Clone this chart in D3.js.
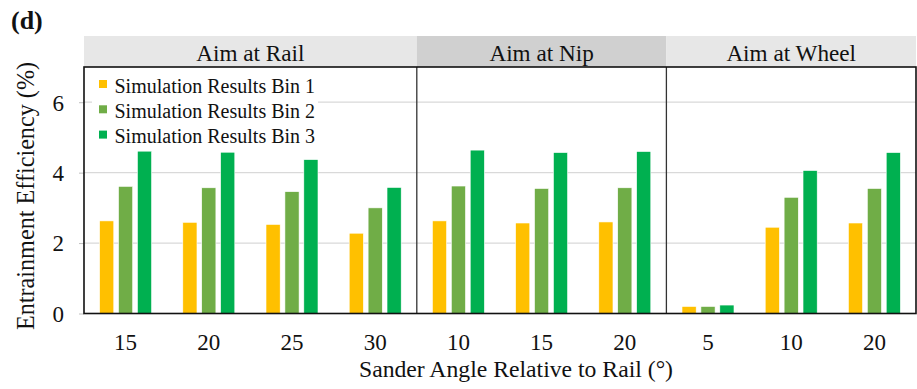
<!DOCTYPE html>
<html>
<head>
<meta charset="utf-8">
<script src="https://cdn.jsdelivr.net/npm/d3@7"></script>
<style>
  body { margin: 0; background: #fff; }
</style>
</head>
<body>
<div class="chart"></div>
<script>
// data
const panels = ["Aim at Rail", "Aim at Nip", "Aim at Wheel"]
const panelAngles = [[15, 20, 25, 30], [10, 15, 20], [5, 10, 20]]
const bins = ["Simulation Results Bin 1", "Simulation Results Bin 2", "Simulation Results Bin 3"]
const bin1 = [2.63, 2.59, 2.53, 2.28, 2.63, 2.57, 2.60, 0.20, 2.45, 2.57]
const bin2 = [3.61, 3.57, 3.46, 3.00, 3.62, 3.55, 3.57, 0.20, 3.30, 3.55]
const bin3 = [4.61, 4.58, 4.37, 3.58, 4.64, 4.57, 4.60, 0.24, 4.06, 4.57]
const yTicks = [0, 2, 4, 6]
const colors = ["#FFC000", "#70AD47", "#00B050"]
const headerFill = ["#e7e7e7", "#d0d0d0", "#e7e7e7"]

const serif = "'Liberation Serif', serif"

let svgWidth = 917
let svgHeight = 389
let plot = { left: 84, right: 916, top: 67, bottom: 313.5 }

let svg = d3.select('.chart')
    .append('svg')
    .attr('width', svgWidth)
    .attr('height', svgHeight)
    .style('font-family', serif)

// one slot per (panel, angle)
let cats = []
panels.forEach((p, i) => {
    panelAngles[i].forEach(a => cats.push({ panel: i, angle: a, key: p + "-" + a }))
})
cats.forEach((c, i) => {
    c.values = [bin1[i], bin2[i], bin3[i]]
})

let x = d3.scaleBand()
    .domain(cats.map(d => d.key))
    .range([plot.left, plot.right])

let y = d3.scaleLinear()
    .domain([0, 7])
    .range([plot.bottom, plot.top])

// panel edges from the band scale
let panelEdges = panels.map((p, i) => {
    let keys = cats.filter(c => c.panel == i).map(c => c.key)
    return { x0: x(keys[0]), x1: x(keys[keys.length - 1]) + x.bandwidth(), name: p, i: i }
})

// header strips
svg.selectAll('.header')
    .data(panelEdges)
    .enter()
    .append('rect')
    .attr('x', d => d.x0)
    .attr('y', 36)
    .attr('width', d => d.x1 - d.x0)
    .attr('height', plot.top - 36)
    .attr('fill', d => headerFill[d.i])

svg.selectAll('.headerText')
    .data(panelEdges)
    .enter()
    .append('text')
    .attr('x', d => (d.x0 + d.x1) / 2)
    .attr('y', 61)
    .attr('text-anchor', 'middle')
    .style('font-family', serif)
    .attr('font-size', 23.2)
    .attr('fill', '#111')
    .text(d => d.name)

// gridlines
svg.selectAll('.grid')
    .data(yTicks.filter(d => d > 0))
    .enter()
    .append('line')
    .attr('x1', plot.left)
    .attr('x2', plot.right)
    .attr('y1', d => y(d))
    .attr('y2', d => y(d))
    .attr('stroke', '#d9d9d9')
    .attr('stroke-width', 1.2)

// y axis
let yAxis = d3.axisLeft(y)
    .tickValues(yTicks)
    .tickSize(5)
    .tickFormat(d3.format("d"))

let yg = svg.append('g')
    .attr('transform', `translate(${plot.left},0)`)
    .call(yAxis)
yg.attr('font-family', null)
yg.select('.domain').remove()
yg.selectAll('line').attr('stroke', '#bfbfbf')
yg.selectAll('text')
    .style('font-family', serif)
    .attr('font-size', 23)
    .attr('fill', '#111')
    .attr('x', -20)
    .attr('dy', '0.34em')

// bars
let x1 = d3.scaleBand()
    .domain(d3.range(3))
    .range([-26, 26])
    .paddingInner(0.25)

let groups = svg.selectAll('.group')
    .data(cats)
    .enter()
    .append('g')
    .attr('transform', d => `translate(${x(d.key) + x.bandwidth() / 2},0)`)

groups.selectAll('rect')
    .data(d => d.values)
    .enter()
    .append('rect')
    .attr('x', (d, i) => x1(i))
    .attr('y', d => y(d))
    .attr('width', x1.bandwidth())
    .attr('height', d => y(0) - y(d))
    .attr('fill', (d, i) => colors[i])
    .attr('stroke', '#fff')
    .attr('stroke-width', 0.6)

// x tick labels
svg.selectAll('.xlab')
    .data(cats)
    .enter()
    .append('text')
    .attr('x', d => x(d.key) + x.bandwidth() / 2)
    .attr('y', 350)
    .attr('text-anchor', 'middle')
    .style('font-family', serif)
    .attr('font-size', 23)
    .attr('fill', '#111')
    .text(d => d.angle)

// panel separators
svg.selectAll('.sep')
    .data(panelEdges.slice(1))
    .enter()
    .append('line')
    .attr('x1', d => d.x0)
    .attr('x2', d => d.x0)
    .attr('y1', plot.top)
    .attr('y2', plot.bottom)
    .attr('stroke', '#333')
    .attr('stroke-width', 1.3)

// plot frame
svg.append('rect')
    .attr('x', plot.left)
    .attr('y', plot.top)
    .attr('width', plot.right - plot.left)
    .attr('height', plot.bottom - plot.top)
    .attr('fill', 'none')
    .attr('stroke', '#111')
    .attr('stroke-width', 1.6)

// legend
let legend = svg.append('g')
legend.append('rect')
    .attr('x', 92)
    .attr('y', 72)
    .attr('width', 226)
    .attr('height', 74)
    .attr('fill', '#fff')
let items = legend.selectAll('.item')
    .data(bins)
    .enter()
    .append('g')
    .attr('transform', (d, i) => `translate(99,${84 + i * 25.3})`)
items.append('rect')
    .attr('x', 0)
    .attr('y', -4)
    .attr('width', 8)
    .attr('height', 8)
    .attr('fill', (d, i) => colors[i])
items.append('text')
    .attr('x', 15.5)
    .attr('y', 8.5)
    .style('font-family', serif)
    .attr('font-size', 20)
    .attr('fill', '#111')
    .text(d => d)

// axis titles
svg.append('text')
    .attr('transform', `translate(34,196) rotate(-90)`)
    .attr('text-anchor', 'middle')
    .style('font-family', serif)
    .attr('font-size', 24.2)
    .attr('fill', '#111')
    .text('Entrainment Efficiency (%)')

svg.append('text')
    .attr('x', 516)
    .attr('y', 377)
    .attr('text-anchor', 'middle')
    .style('font-family', serif)
    .attr('font-size', 23.7)
    .attr('fill', '#111')
    .text('Sander Angle Relative to Rail (°)')

// panel label
svg.append('text')
    .attr('x', 11)
    .attr('y', 29)
    .style('font-family', serif)
    .attr('font-size', 26)
    .attr('font-weight', 'bold')
    .attr('fill', '#111')
    .text('(d)')
</script>
</body>
</html>
